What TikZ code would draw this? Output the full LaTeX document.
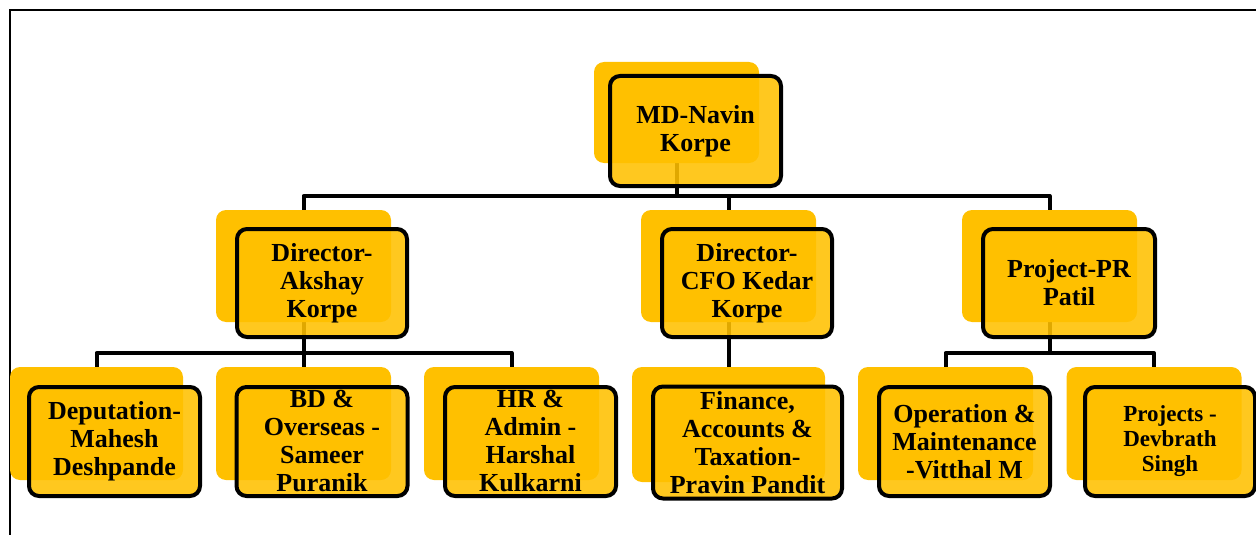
\documentclass[tikz,border=0pt]{standalone}
\usepackage{fontspec}
\setmainfont{Liberation Serif}
\definecolor{gold}{HTML}{FFC000}
\pgfdeclarelayer{bg}
\pgfsetlayers{bg,main}
\begin{document}
\begin{tikzpicture}[x=1pt,y=-1pt,
  backbox/.style={fill=gold, draw=none, rounded corners=10pt, inner sep=0pt,
    minimum width=175pt, minimum height=113pt},
  frontbox/.style={fill=gold, fill opacity=0.88, text opacity=1, draw=black,
    line width=4pt, rounded corners=10pt, inner sep=0pt, align=center,
    minimum width=171pt, minimum height=109pt,
    font=\fontsize{26}{28}\selectfont\bfseries},
  conn/.style={draw=black, line width=4pt, line join=round},
  frameline/.style={draw=black, line width=1.5pt}]
\useasboundingbox (0,0) rectangle (1256,535);
\draw[frameline] (10,535) -- (10,10) -- (1256,10);

\coordinate (bus1) at (0,196);
\coordinate (bus2) at (0,353);

% back boxes
\node[backbox, minimum width=165pt, minimum height=101pt] (mdb) at (676.5,112.5) {};
\node[backbox, minimum height=112pt] (ab) at (303.5,266) {};
\node[backbox, minimum height=112pt] (cb) at (728.5,266) {};
\node[backbox, minimum height=112pt] (pb) at (1049.5,266) {};
\node[backbox, minimum width=173pt] (depb) at (96.5,423.5) {};
\node[backbox] (bdb) at (303.5,423.5) {};
\node[backbox] (hrb) at (511.5,423.5) {};
\node[backbox, minimum width=193pt, minimum height=115pt] (finb) at (728.5,424.5) {};
\node[backbox] (opb) at (945.5,423.5) {};
\node[backbox] (prjb) at (1154,423.5) {};

% connectors, beneath the boxes
\begin{pgfonlayer}{bg}
\draw[conn] (mdb.center) |- (ab.center |- bus1) -- (ab.center);
\draw[conn] (mdb.center) |- (pb.center |- bus1) -- (pb.center);
\draw[conn] (cb.center |- bus1) -- (cb.center);
\draw[conn] (ab.center) |- (depb.center |- bus2) -- (depb.center);
\draw[conn] (ab.center) |- (hrb.center |- bus2) -- (hrb.center);
\draw[conn] (ab.center) -- (bdb.center);
\draw[conn] (cb.center) -- (finb.center);
\draw[conn] (pb.center) |- (opb.center |- bus2) -- (opb.center);
\draw[conn] (pb.center) |- (prjb.center |- bus2) -- (prjb.center);
\end{pgfonlayer}

% front boxes
\node[frontbox, minimum height=110pt] (md) at (695.5,131) {MD-Navin\\Korpe};
\node[frontbox, minimum width=170pt, minimum height=108pt] (a) at (322,283) {Director-\\Akshay\\Korpe};
\node[frontbox, minimum width=170pt, minimum height=108pt] (c) at (747,283) {Director-\\CFO Kedar\\Korpe};
\node[frontbox, minimum width=172pt, minimum height=108pt] (p) at (1069,283) {Project-PR\\Patil};
\node[frontbox] (dep) at (114.5,441.5) {Deputation-\\Mahesh\\Deshpande};
\node[frontbox] (bd) at (322,441.5) {BD \&\\Overseas -\\Sameer\\Puranik};
\node[frontbox] (hr) at (530.5,441.5) {HR \&\\Admin -\\Harshal\\Kulkarni};
\node[frontbox, minimum width=189pt, minimum height=112pt] (fin) at (747.5,442.5) {Finance,\\Accounts \&\\Taxation-\\Pravin Pandit};
\node[frontbox] (op) at (964.5,441.5) {Operation \&\\Maintenance\\-Vitthal M};
\node[frontbox, minimum width=170pt, font=\fontsize{23}{25}\selectfont\bfseries] (prj) at (1170,441.5) {Projects -\\Devbrath\\Singh};
\end{tikzpicture}
\end{document}
